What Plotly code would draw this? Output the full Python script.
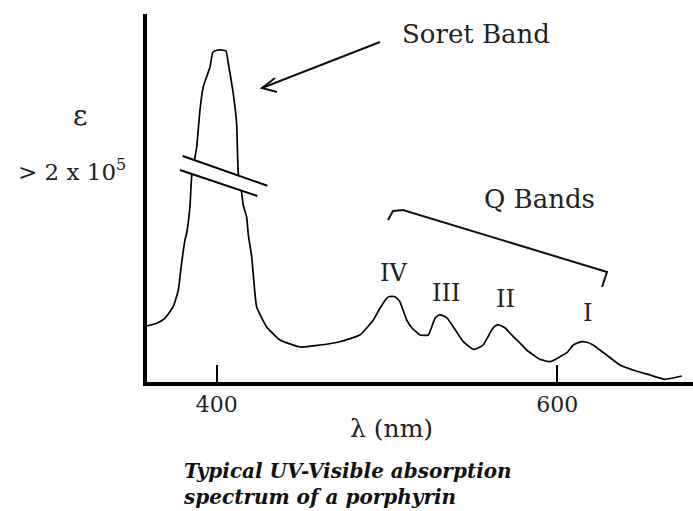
import plotly.graph_objects as go

# ---- data (absorbance in arbitrary units) ----
wavelength_nm = [359.1, 364.8, 369.6, 374.5, 377.5, 379.4, 381.4, 382.4, 384.3, 385.3,
                 387.3, 388.3, 390.2, 392.1, 396.1, 397.8, 400.8, 403.1, 405.5, 406.8,
                 409.7, 411.7, 412.7, 414.7, 415.6, 417.6, 418.6, 420.6, 423.5, 429.4,
                 437.2, 448.9, 460.7, 472.4, 484.1, 492.0, 495.9, 499.8, 501.7, 504.7,
                 507.6, 509.4, 511.6, 514.7, 519.4, 524.3, 528.2, 530.6, 533.1, 535.3,
                 538.9, 541.7, 544.8, 550.7, 553.5, 556.5, 561.5, 563.5, 565.9, 569.4,
                 574.2, 578.1, 582.0, 589.8, 595.7, 601.6, 605.7, 609.4, 611.5, 614.3,
                 616.8, 621.1, 625.0, 629.0, 636.8, 644.5, 654.4, 663.2, 673.1]
absorbance_au = [56, 58.7, 63.7, 75.3, 92, 118.7, 142, 149, 175, 205,
                 225, 235, 272, 295, 315, 330, 332, 332, 331, 319,
                 289, 259, 209, 189, 177, 165, 147, 125, 75, 55,
                 42, 35, 37, 40.3, 47, 62, 73.7, 83.7, 85.5, 85.3,
                 80.3, 72, 62, 54, 47, 47, 63.7, 67, 66.3, 64,
                 55.3, 48, 40.3, 32.7, 34, 37, 52, 56, 57, 54,
                 45.3, 39, 32, 22.7, 20.3, 25.3, 29.3, 37, 38.7, 40.3,
                 40, 37, 32, 27, 17, 12, 7, 2.7, 6]
tick_vals = [400, 600]
tick_text = ["400", "600"]
band_labels = ["IV", "III", "II", "I"]

W, H = 693, 511
L, R, T, B = 147, 0, 14, 129
PW, PH = W - L - R, H - T - B


def px(x):
    return (x - L) / PW


def py(y):
    return (T + PH - y) / PH


SERIF = "DejaVu Serif"
TXT = "#222222"

fig = go.Figure()
fig.add_trace(go.Scatter(x=wavelength_nm, y=absorbance_au, mode="lines",
                         line=dict(color="black", width=1.7, shape="spline", smoothing=0.4),
                         showlegend=False, hoverinfo="skip"))

shapes = []


def poly(pts, closed=False):
    p = "M " + " L ".join(f"{px(a)},{py(b)}" for a, b in pts)
    return p + (" Z" if closed else "")


# axis break (white gap + two parallel strokes)
shapes.append(dict(type="path", xref="paper", yref="paper",
                   path=poly([(182.7, 156), (267.3, 185.7), (257.3, 196), (180, 170)], True),
                   fillcolor="white", line=dict(width=0), layer="above"))
for seg in [[(182.7, 156), (267.3, 185.7)], [(180, 170), (257.3, 196)]]:
    shapes.append(dict(type="path", xref="paper", yref="paper", path=poly(seg),
                       line=dict(color="black", width=2), layer="above"))
# Q band bracket
shapes.append(dict(type="path", xref="paper", yref="paper",
                   path=poly([(388, 220), (393, 211), (403, 210), (607, 272), (602, 287)]),
                   line=dict(color="#111", width=2), layer="above"))
# Soret arrow (shaft + open head)
shapes.append(dict(type="path", xref="paper", yref="paper",
                   path=poly([(380, 42), (262, 88)]),
                   line=dict(color="#111", width=2), layer="above"))
shapes.append(dict(type="path", xref="paper", yref="paper",
                   path=poly([(275, 78), (262, 88), (277, 92)]),
                   line=dict(color="#111", width=2), layer="above"))

ann = []


def text(s, x, y, size, **kw):
    ann.append(dict(text=s, x=px(x), y=py(y), xref="paper", yref="paper",
                    showarrow=False, font=dict(family=SERIF, size=size, color=kw.pop("color", TXT)),
                    xanchor=kw.pop("xanchor", "center"), yanchor="middle", **kw))


text("Soret Band", 476, 34, 26)
text("Q Bands", 539, 199, 26)
for lab, (x, y) in zip(band_labels, [(393.5, 272.5), (446, 292.5), (505.5, 299), (587, 312.5)]):
    text(lab, x, y, 24)
text("ε", 80, 115, 28)
text("> 2 x 10<sup>5</sup>", 72, 170, 23)
text("λ (nm)", 391, 428, 25)
text("<b><i>Typical UV-Visible absorption<br>spectrum of a porphyrin</i></b>",
     181, 484, 20, xanchor="left", align="left", color="#111")

fig.update_layout(
    width=W, height=H, margin=dict(l=L, r=R, t=T, b=B, pad=0),
    paper_bgcolor="white", plot_bgcolor="white",
    shapes=shapes, annotations=ann,
    xaxis=dict(range=[359.1, 679.7], showgrid=False, zeroline=False,
               showline=True, linecolor="black", linewidth=4,
               ticks="inside", ticklen=17, tickwidth=2, tickcolor="black",
               tickvals=tick_vals, ticktext=tick_text,
               tickfont=dict(family=SERIF, size=22, color=TXT)),
    yaxis=dict(range=[0, 368], showgrid=False, zeroline=False,
               showline=True, linecolor="black", linewidth=4,
               ticks="", showticklabels=False),
)
fig.write_html("out.html")
